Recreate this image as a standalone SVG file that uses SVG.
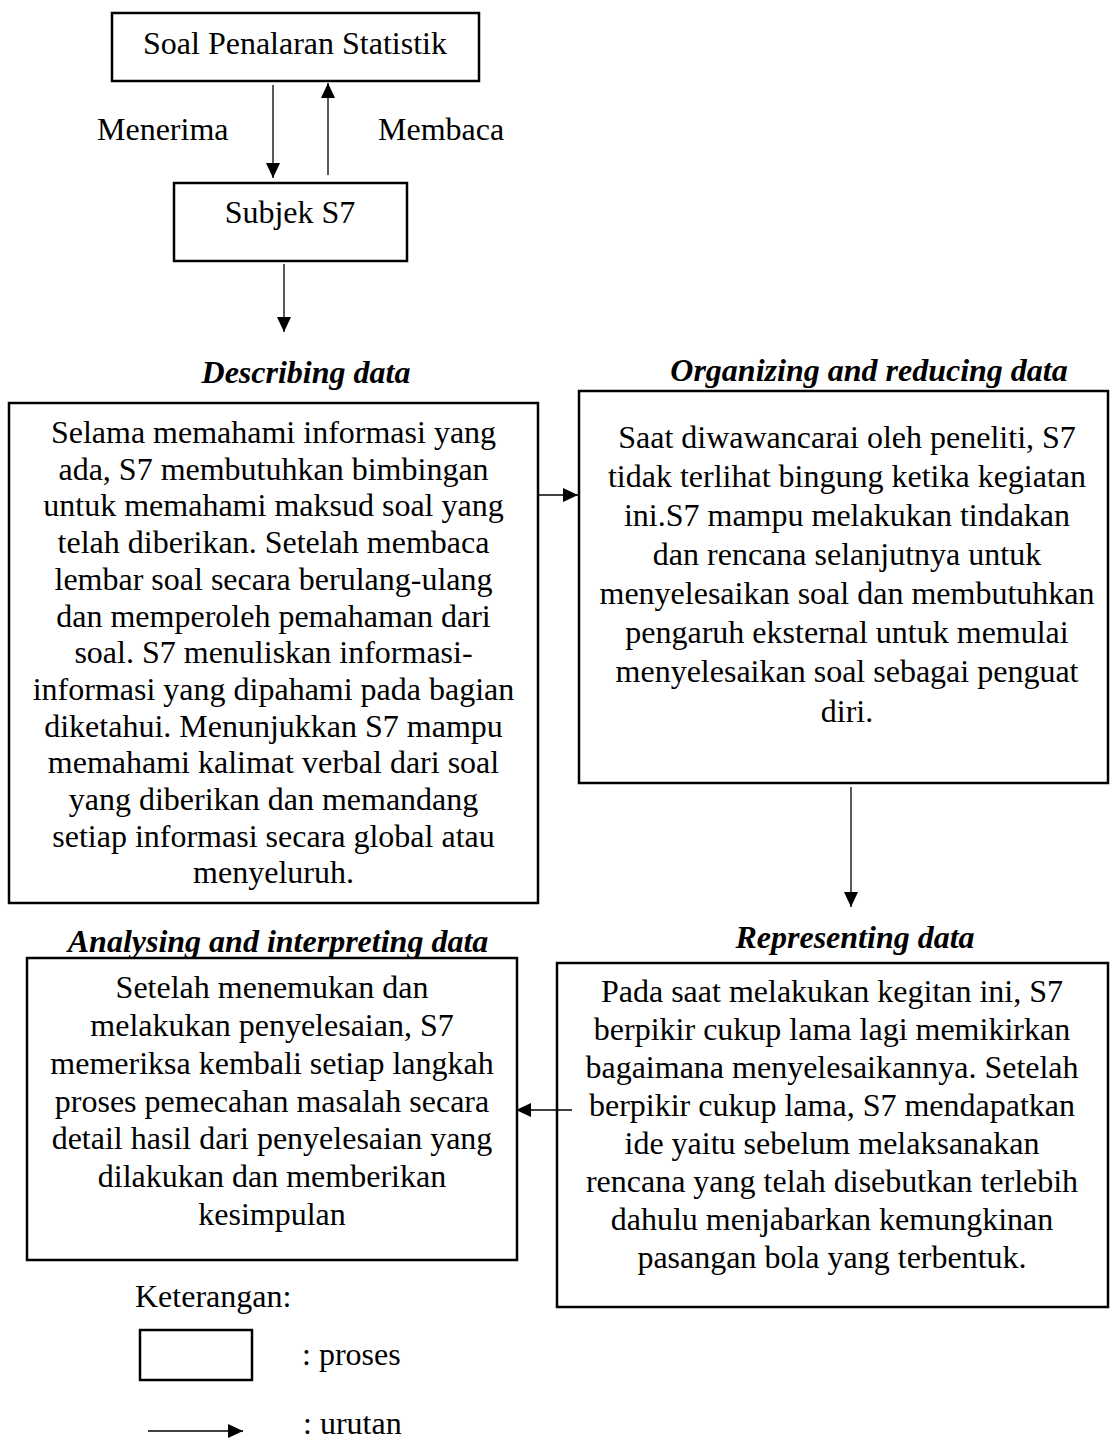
<svg xmlns="http://www.w3.org/2000/svg" width="1110" height="1441" viewBox="0 0 1110 1441">
<defs>
<marker id="ah" markerUnits="userSpaceOnUse" markerWidth="16" markerHeight="15" refX="15" refY="7" orient="auto">
<path d="M0,0 L15,7 L0,14 z" fill="#000"/>
</marker>
<style>
text{font-family:"Liberation Serif","Times New Roman",serif;font-size:32px;fill:#000}
.c{text-anchor:middle}
.h{font-weight:bold;font-style:italic;text-anchor:middle}
.box{fill:#fff;stroke:#000;stroke-width:2.5}
.ar{fill:none;stroke:#000;stroke-width:1.3;marker-end:url(#ah)}
</style>
</defs>
<rect width="1110" height="1441" fill="#fff"/>

<g id="soal">
<rect class="box" x="112" y="13" width="367" height="68"/>
<text class="c" x="295" y="54">Soal Penalaran Statistik</text>
</g>

<g id="subjek">
<rect class="box" x="174" y="183" width="233" height="78"/>
<text class="c" x="290" y="223">Subjek S7</text>
</g>

<g id="describing">
<text class="h" x="306" y="383">Describing data</text>
<rect class="box" x="9" y="403" width="529" height="500"/>
<text class="c" x="273.5" y="443">Selama memahami informasi yang</text>
<text class="c" x="273.5" y="479.7">ada, S7 membutuhkan bimbingan</text>
<text class="c" x="273.5" y="516.4">untuk memahami maksud soal yang</text>
<text class="c" x="273.5" y="553.1">telah diberikan. Setelah membaca</text>
<text class="c" x="273.5" y="589.8">lembar soal secara berulang-ulang</text>
<text class="c" x="273.5" y="626.5">dan memperoleh pemahaman dari</text>
<text class="c" x="273.5" y="663.2">soal. S7 menuliskan informasi-</text>
<text class="c" x="273.5" y="699.9">informasi yang dipahami pada bagian</text>
<text class="c" x="273.5" y="736.6">diketahui. Menunjukkan S7 mampu</text>
<text class="c" x="273.5" y="773.3">memahami kalimat verbal dari soal</text>
<text class="c" x="273.5" y="810">yang diberikan dan memandang</text>
<text class="c" x="273.5" y="846.7">setiap informasi secara global atau</text>
<text class="c" x="273.5" y="883.4">menyeluruh.</text>
</g>

<g id="organizing">
<text class="h" x="869" y="381">Organizing and reducing data</text>
<rect class="box" x="579" y="391" width="529" height="392"/>
<text class="c" x="847" y="448">Saat diwawancarai oleh peneliti, S7</text>
<text class="c" x="847" y="487">tidak terlihat bingung ketika kegiatan</text>
<text class="c" x="847" y="526">ini.S7 mampu melakukan tindakan</text>
<text class="c" x="847" y="565">dan rencana selanjutnya untuk</text>
<text class="c" x="847" y="604">menyelesaikan soal dan membutuhkan</text>
<text class="c" x="847" y="643">pengaruh eksternal untuk memulai</text>
<text class="c" x="847" y="682">menyelesaikan soal sebagai penguat</text>
<text class="c" x="847" y="722">diri.</text>
</g>

<g id="representing">
<text class="h" x="855" y="948">Representing data</text>
<rect class="box" x="557" y="963" width="551" height="344"/>
<text class="c" x="832" y="1002">Pada saat melakukan kegitan ini, S7</text>
<text class="c" x="832" y="1040">berpikir cukup lama lagi memikirkan</text>
<text class="c" x="832" y="1078">bagaimana menyelesaikannya. Setelah</text>
<text class="c" x="832" y="1116">berpikir cukup lama, S7 mendapatkan</text>
<text class="c" x="832" y="1154">ide yaitu sebelum melaksanakan</text>
<text class="c" x="832" y="1192">rencana yang telah disebutkan terlebih</text>
<text class="c" x="832" y="1230">dahulu menjabarkan kemungkinan</text>
<text class="c" x="832" y="1268">pasangan bola yang terbentuk.</text>
</g>

<g id="analysing">
<text class="h" x="278" y="952">Analysing and interpreting data</text>
<rect class="box" x="27" y="958" width="490" height="302"/>
<text class="c" x="272" y="998">Setelah menemukan dan</text>
<text class="c" x="272" y="1036">melakukan penyelesaian, S7</text>
<text class="c" x="272" y="1074">memeriksa kembali setiap langkah</text>
<text class="c" x="272" y="1112">proses pemecahan masalah secara</text>
<text class="c" x="272" y="1149">detail hasil dari penyelesaian yang</text>
<text class="c" x="272" y="1187">dilakukan dan memberikan</text>
<text class="c" x="272" y="1225">kesimpulan</text>
</g>

<g id="connectors">
<line class="ar" x1="273" y1="85" x2="273" y2="178"/>
<line class="ar" x1="328" y1="175" x2="328" y2="83"/>
<line class="ar" x1="284" y1="264" x2="284" y2="332"/>
<line class="ar" x1="538" y1="495" x2="578" y2="495"/>
<line class="ar" x1="851" y1="787" x2="851" y2="907"/>
<line class="ar" x1="572" y1="1110" x2="516" y2="1110"/>
<text x="97" y="140">Menerima</text>
<text x="378" y="140">Membaca</text>
</g>

<g id="legend">
<text x="135" y="1307">Keterangan:</text>
<rect class="box" x="140" y="1330" width="112" height="50"/>
<text x="302" y="1365">: proses</text>
<line class="ar" x1="148" y1="1431" x2="243" y2="1431"/>
<text x="303" y="1434">: urutan</text>
</g>
</svg>
